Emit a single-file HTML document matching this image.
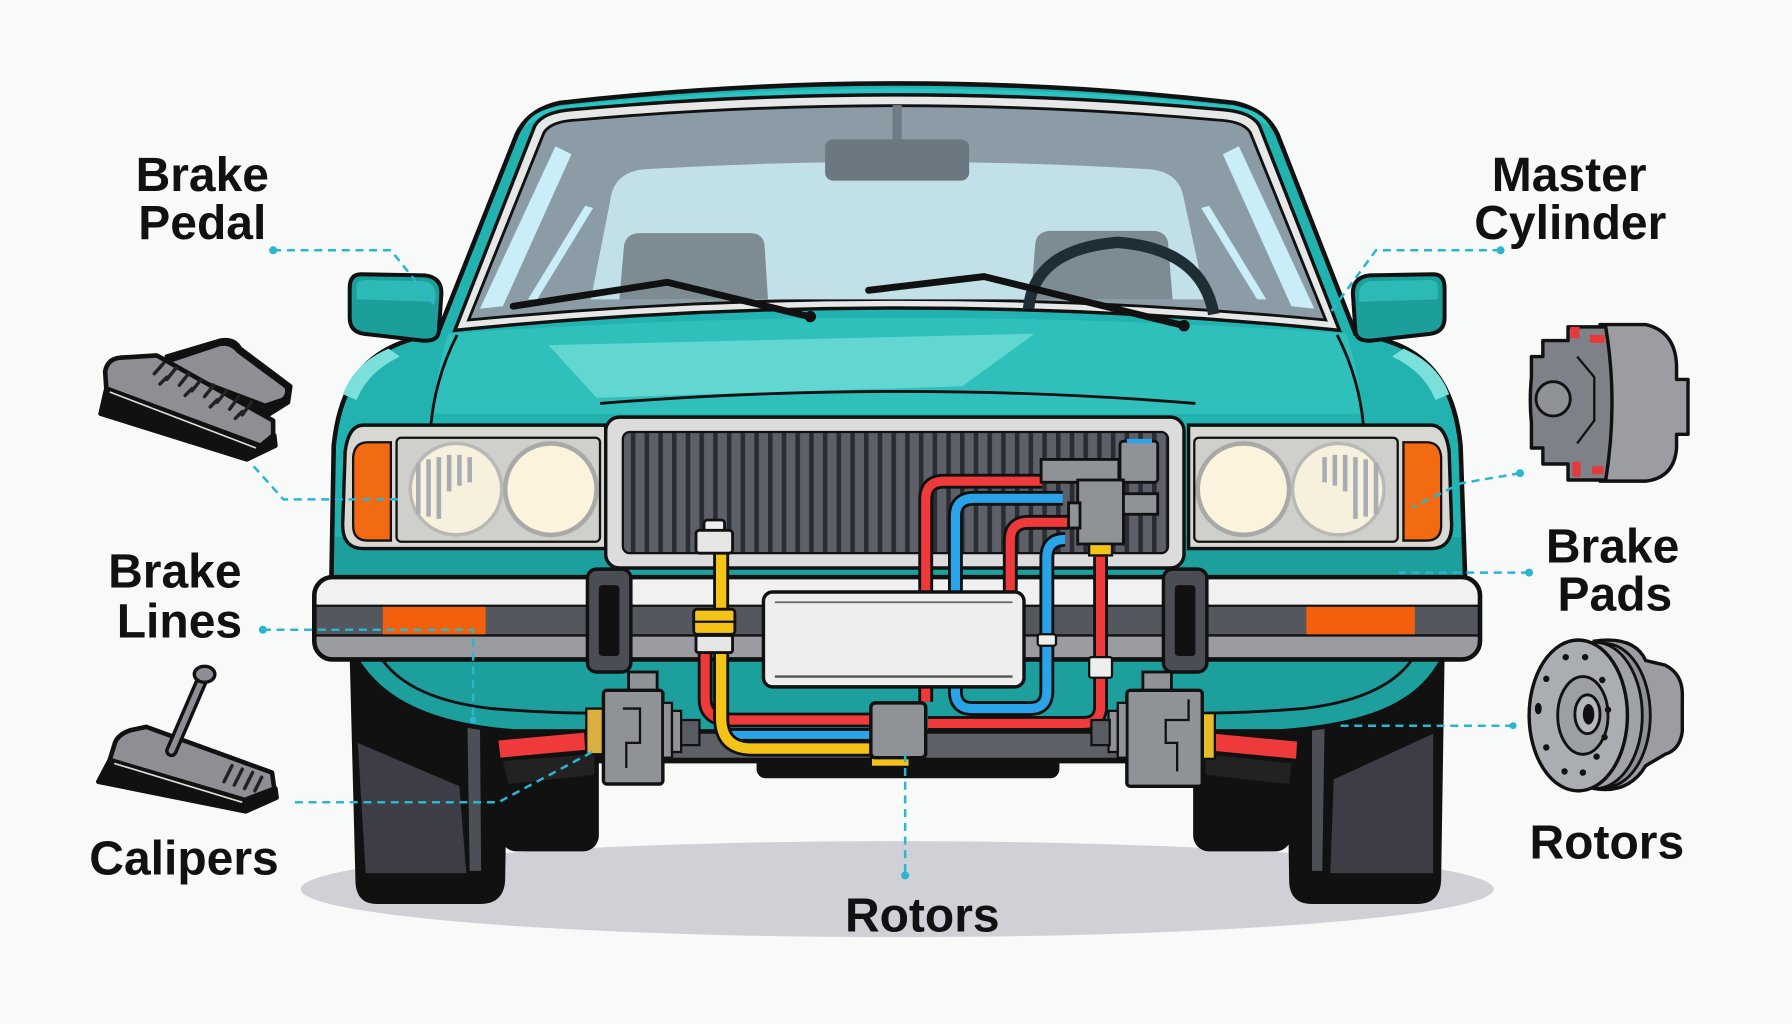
<!DOCTYPE html>
<html><head><meta charset="utf-8"><style>
html,body{margin:0;padding:0;background:#f8fafa;}
svg{display:block;}
text{font-family:"Liberation Sans",Arial,sans-serif;font-weight:bold;fill:#111;}
</style></head><body>
<svg xmlns="http://www.w3.org/2000/svg" xmlns:xlink="http://www.w3.org/1999/xlink" width="1792" height="1024" viewBox="0 0 1568 896">
<defs>
<pattern id="gr" width="12" height="20" patternUnits="userSpaceOnUse">
<rect width="12" height="20" fill="#5d6069"/><rect x="0" width="4" height="20" fill="#2a2c33"/>
</pattern>
<clipPath id="bodyclip">
<path d="M383,292 L452,118 Q462,96 490,90 Q790,56 1080,90 Q1108,96 1118,118 L1186,292 C1245,300 1272,330 1278,390 L1282,505 L1262,577 C1240,620 1190,635 1120,640 L450,640 C380,635 335,615 312,577 L290,505 L292,390 C298,330 325,300 383,292 Z"/>
</clipPath>
</defs>
<rect width="1568" height="896" fill="#f8fafa"/>
<!-- shadow -->
<ellipse cx="785" cy="778" rx="522" ry="42" fill="#d0d1d6"/>
<!-- rear tires -->
<rect x="438" y="630" width="86" height="115" rx="14" fill="#111"/>
<rect x="1044" y="630" width="86" height="115" rx="14" fill="#111"/>
<!-- front tires -->
<path d="M306,575 H445 L442,770 Q441,791 420,791 H330 Q311,791 311,770 Z" fill="#111"/>
<path d="M313,650 L402,688 L408,764 L320,764 Z" fill="#3c3d45"/>
<path d="M409,634 L420,636 L421,762 L411,762 Z" fill="#4d4f57"/>
<path d="M1125,575 H1264 L1261,770 Q1260,791 1240,791 H1148 Q1128,791 1128,770 Z" fill="#111"/>
<path d="M1167,682 L1254,642 L1254,764 L1164,764 Z" fill="#3c3d45"/>
<path d="M1148,636 L1159,634 L1157,762 L1148,762 Z" fill="#4d4f57"/>
<!-- undercarriage -->
<path d="M440,625 H1130 V668 H440 Z" fill="#111"/>
<rect x="662" y="640" width="265" height="41" rx="8" fill="#111"/>
<rect x="585" y="641" width="400" height="22" fill="#5e6068"/>
<!-- body -->
<path d="M383,292 L452,118 Q462,96 490,90 Q790,56 1080,90 Q1108,96 1118,118 L1186,292 C1245,300 1272,330 1278,390 L1282,505 L1262,577 C1240,620 1190,635 1120,640 L450,640 C380,635 335,615 312,577 L290,505 L292,390 C298,330 325,300 383,292 Z" fill="#22b3b1"/>
<g clip-path="url(#bodyclip)">
<rect x="280" y="470" width="1010" height="180" fill="#1c9f9d"/>
</g>
<path d="M383,292 L452,118 Q462,96 490,90 Q790,56 1080,90 Q1108,96 1118,118 L1186,292 C1245,300 1272,330 1278,390 L1282,505 L1262,577 C1240,620 1190,635 1120,640 L450,640 C380,635 335,615 312,577 L290,505 L292,390 C298,330 325,300 383,292 Z" fill="none" stroke="#111" stroke-width="4"/>
<!-- roof band lighter -->
<path d="M458,112 Q466,96 490,93 Q790,62 1080,93 Q1104,96 1112,112 L1100,104 Q785,74 470,104 Z" fill="#2cc3c2"/>
<!-- hood -->
<path d="M392,292 Q785,264 1178,292 C1186,315 1190,340 1192,362 L378,362 C380,340 385,315 392,292 Z" fill="#2fc0bc"/>
<path d="M480,302 L905,292 L842,338 L522,348 Z" fill="#62d7d1"/>
<path d="M300,345 Q310,318 340,305 L350,312 Q322,325 312,350 Z" fill="#7be0da"/>
<path d="M1268,345 Q1258,318 1228,305 L1218,312 Q1246,325 1256,350 Z" fill="#7be0da"/>
<path d="M525,353 Q790,332 1046,353" fill="none" stroke="#111" stroke-width="2.5"/>
<path d="M400,293 Q381,330 377,372" fill="none" stroke="#111" stroke-width="2.5"/>
<path d="M1170,293 Q1189,330 1193,372" fill="none" stroke="#111" stroke-width="2.5"/>
<!-- windshield -->
<path d="M398,289 L468,110 Q475,98 500,96 Q785,70 1070,96 Q1095,98 1102,110 L1172,289 Q785,250 398,289 Z" fill="#e6e8e8" stroke="#111" stroke-width="3"/>
<path d="M410,280 L476,116 Q482,106 505,105 Q785,80 1065,105 Q1088,106 1094,116 L1160,280 Q785,244 410,280 Z" fill="#8b9ca6" stroke="#111" stroke-width="2.5"/>
<path d="M517,262 L535,170 Q540,150 565,148 Q787,135 1005,148 Q1030,150 1035,170 L1055,262 Z" fill="#c1e0e7"/>
<path d="M486,128 L500,135 L440,268 L420,270 Z" fill="#c9eef8"/>
<path d="M512,180 L519,182 L470,262 L462,262 Z" fill="#c9eef8"/>
<path d="M1084,128 L1070,135 L1130,268 L1150,270 Z" fill="#c9eef8"/>
<path d="M1058,180 L1051,182 L1100,262 L1108,262 Z" fill="#c9eef8"/>
<rect x="781" y="92" width="8" height="32" fill="#6f7c84"/>
<rect x="722" y="122" width="126" height="36" rx="7" fill="#6b7880"/>
<path d="M542,262 L546,215 Q548,204 560,204 H656 Q668,204 669,215 L672,262 Z" fill="#7d8b92"/>
<path d="M902,262 L906,212 Q908,202 920,202 H1008 Q1020,202 1022,212 L1026,262 Z" fill="#7d8b92"/>
<path d="M900,270 Q905,218 978,212 Q1052,218 1062,275" fill="none" stroke="#1f2d35" stroke-width="10"/>
<path d="M449,268 L584,247 L708,277" fill="none" stroke="#111" stroke-width="6" stroke-linecap="round" stroke-linejoin="round"/>
<path d="M760,254 L861,242 L1036,285" fill="none" stroke="#111" stroke-width="6" stroke-linecap="round" stroke-linejoin="round"/>
<circle cx="709" cy="277" r="5" fill="#111"/><circle cx="1036" cy="285" r="5" fill="#111"/>
<!-- side mirrors -->
<path d="M316,240 L372,241 Q388,243 386,260 L384,290 Q383,299 370,298 L318,292 Q306,290 306,278 L306,252 Q306,240 316,240 Z" fill="#1c9e9b" stroke="#111" stroke-width="3.5"/>
<path d="M312,250 Q312,245 320,245 L370,246 Q380,247 381,256 L381,264 L312,262 Z" fill="#2bbab6"/>
<path d="M1254,240 L1198,241 Q1182,243 1184,260 L1186,290 Q1187,299 1200,298 L1252,292 Q1264,290 1264,278 L1264,252 Q1264,240 1254,240 Z" fill="#1c9e9b" stroke="#111" stroke-width="3.5"/>
<path d="M1258,250 Q1258,245 1250,245 L1200,246 Q1190,247 1189,256 L1189,264 L1258,262 Z" fill="#2bbab6"/>
<!-- headlights -->
<g id="hl">
<path d="M318,372 H530 V480 H318 Q298,480 300,455 L302,395 Q305,372 318,372 Z" fill="#d8d8d3" stroke="#111" stroke-width="3"/>
<path d="M322,387 H342 V473 H322 Q309,473 309,460 L309,400 Q310,387 322,387 Z" fill="#f26a12" stroke="#111" stroke-width="2"/>
<rect x="347" y="383" width="178" height="91" rx="4" fill="#cfd0cb" stroke="#111" stroke-width="2"/>
<circle cx="482" cy="428" r="40" fill="#fbf3dc" stroke="#a9aaa8" stroke-width="4"/>
<circle cx="399" cy="428" r="40" fill="#f7f0dd" stroke="#b8b8b4" stroke-width="3"/>
<g stroke="#a7adb2" stroke-width="4">
<line x1="366" y1="405" x2="366" y2="450"/><line x1="375" y1="402" x2="375" y2="452"/><line x1="384" y1="400" x2="384" y2="454"/>
<line x1="393" y1="398" x2="393" y2="430"/><line x1="402" y1="398" x2="402" y2="425"/><line x1="411" y1="400" x2="411" y2="422"/>
</g>
</g>
<use xlink:href="#hl" href="#hl" transform="translate(1570,0) scale(-1,1)"/>
<!-- grille -->
<rect x="530" y="365" width="506" height="132" rx="12" fill="#dcdcdc" stroke="#111" stroke-width="3"/>
<rect x="545" y="378" width="477" height="106" rx="6" fill="url(#gr)" stroke="#111" stroke-width="2"/>
<!-- lower panel lines -->
<path d="M335,578 Q360,612 430,620 Q480,624 520,624" fill="none" stroke="#111" stroke-width="2.5"/>
<path d="M1235,578 Q1210,612 1140,620 Q1090,624 1050,624" fill="none" stroke="#111" stroke-width="2.5"/>
<!-- bumper -->
<rect x="275" y="505" width="1020" height="72" rx="16" fill="#9a9ca1"/>
<path d="M291,505 H1279 Q1295,505 1295,521 V530 H275 V521 Q275,505 291,505 Z" fill="#f1f1f1"/>
<rect x="275" y="530" width="1020" height="26" fill="#55575e"/>
<line x1="275" y1="530" x2="1295" y2="530" stroke="#111" stroke-width="2"/>
<line x1="275" y1="556" x2="1295" y2="556" stroke="#111" stroke-width="2"/>
<rect x="335" y="531" width="90" height="24" fill="#f2600e"/>
<rect x="1143" y="531" width="95" height="24" fill="#f2600e"/>
<rect x="275" y="505" width="1020" height="72" rx="16" fill="none" stroke="#111" stroke-width="4"/>
<!-- bumper guards -->
<rect x="514" y="498" width="38" height="90" rx="8" fill="#4b4d55" stroke="#111" stroke-width="3"/>
<rect x="524" y="512" width="18" height="62" rx="3" fill="#111"/>
<rect x="1018" y="498" width="38" height="90" rx="8" fill="#4b4d55" stroke="#111" stroke-width="3"/>
<rect x="1028" y="512" width="18" height="62" rx="3" fill="#111"/>
<!-- brake lines behind plate -->
<g fill="none" stroke-linejoin="round">
<path d="M912,421 H826 Q810,421 810,437 V614" stroke="#111" stroke-width="13"/>
<path d="M912,421 H826 Q810,421 810,437 V614" stroke="#ee3a3a" stroke-width="8"/>
<path d="M935,457 H900 Q884,457 884,473 V530" stroke="#111" stroke-width="13"/>
<path d="M935,457 H900 Q884,457 884,473 V530" stroke="#ee3a3a" stroke-width="8"/>
<path d="M930,436 H852 Q836,436 836,452 V605 Q836,620 851,620 H901 Q916,620 916,605 V488 Q916,472 932,472" stroke="#111" stroke-width="13"/>
<path d="M930,436 H852 Q836,436 836,452 V605 Q836,620 851,620 H901 Q916,620 916,605 V488 Q916,472 932,472" stroke="#2aa3e8" stroke-width="8"/>
<path d="M963,487 V618 Q963,633 948,633 H812" stroke="#111" stroke-width="13"/>
<path d="M963,487 V618 Q963,633 948,633 H812" stroke="#ee3a3a" stroke-width="8"/>
</g>
<rect x="908" y="555" width="16" height="10" rx="2" fill="#eee" stroke="#111" stroke-width="2"/>
<rect x="953" y="575" width="20" height="18" rx="2" fill="#eee" stroke="#111" stroke-width="2"/>
<!-- license plate -->
<rect x="668" y="518" width="228" height="83" rx="8" fill="#eeeeee" stroke="#111" stroke-width="3"/>
<line x1="678" y1="527" x2="886" y2="527" stroke="#666" stroke-width="1.5"/>
<line x1="678" y1="592" x2="886" y2="592" stroke="#555" stroke-width="2"/>
<!-- left bundle -->
<g fill="none" stroke-linejoin="round">
<path d="M617,572 V612 Q617,630 640,630 H766" stroke="#111" stroke-width="13"/>
<path d="M617,572 V612 Q617,630 640,630 H766" stroke="#ee3a3a" stroke-width="8"/>
<path d="M636,643 H766" stroke="#111" stroke-width="12"/>
<path d="M636,643 H766" stroke="#2aa3e8" stroke-width="7"/>
<path d="M631,484 V628 Q631,655 658,655 H766" stroke="#111" stroke-width="14"/>
<path d="M631,484 V628 Q631,655 658,655 H766" stroke="#f3c417" stroke-width="9"/>
</g>
<rect x="616" y="455" width="18" height="10" rx="3" fill="#eee" stroke="#111" stroke-width="2.5"/>
<rect x="609" y="464" width="32" height="20" rx="3" fill="#e6e6e6" stroke="#111" stroke-width="2.5"/>
<rect x="607" y="533" width="36" height="22" rx="3" fill="#f3c417" stroke="#111" stroke-width="2.5"/>
<line x1="607" y1="544" x2="643" y2="544" stroke="#111" stroke-width="2"/>
<rect x="609" y="556" width="32" height="15" rx="2" fill="#e6e6e6" stroke="#111" stroke-width="2.5"/>
<!-- center block -->
<rect x="762" y="663" width="34" height="8" fill="#f3c417" stroke="#111" stroke-width="2"/>
<rect x="762" y="615" width="48" height="48" rx="4" fill="#8f9297" stroke="#111" stroke-width="3"/>
<!-- master cylinder -->
<g fill="#8f9297" stroke="#111" stroke-width="2.5">
<rect x="911" y="402" width="68" height="20"/>
<rect x="980" y="386" width="33" height="36" rx="3"/>
<rect x="943" y="420" width="40" height="56"/>
<rect x="983" y="432" width="30" height="18"/>
<rect x="935" y="440" width="10" height="22"/>
</g>
<rect x="986" y="384" width="22" height="4" fill="#2aa3e8"/>
<rect x="953" y="476" width="20" height="10" fill="#f3c417" stroke="#111" stroke-width="2"/>
<!-- calipers left -->
<path d="M435,647 L512,640 L513,657 L437,664 Z" fill="#ee3a3a" stroke="#111" stroke-width="2"/>
<path d="M440,666 L520,660 L520,678 L445,686 Z" fill="#222"/>
<rect x="513" y="620" width="17" height="40" fill="#d9b040" stroke="#111" stroke-width="2"/>
<rect x="550" y="588" width="25" height="20" fill="#8f9297" stroke="#111" stroke-width="2.5"/>
<rect x="528" y="604" width="52" height="82" rx="3" fill="#8f9297" stroke="#111" stroke-width="3"/>
<path d="M545,620 H560 V650 H548 V672" fill="none" stroke="#111" stroke-width="2"/>
<rect x="580" y="615" width="8" height="48" fill="#8f9297" stroke="#111" stroke-width="2"/>
<rect x="588" y="622" width="8" height="36" fill="#8f9297" stroke="#111" stroke-width="2"/>
<rect x="596" y="630" width="16" height="22" fill="#5a5c63" stroke="#111" stroke-width="2"/>
<!-- calipers right -->
<path d="M1062,641 L1136,648 L1135,665 L1062,658 Z" fill="#ee3a3a" stroke="#111" stroke-width="2"/>
<path d="M1055,660 L1130,668 L1128,686 L1055,678 Z" fill="#222"/>
<rect x="1050" y="624" width="13" height="40" fill="#e3be2a" stroke="#111" stroke-width="2"/>
<rect x="1000" y="588" width="25" height="20" fill="#8f9297" stroke="#111" stroke-width="2.5"/>
<rect x="986" y="604" width="66" height="84" rx="3" fill="#8f9297" stroke="#111" stroke-width="3"/>
<path d="M1040,612 V630 H1020 V650 H1030 V675" fill="none" stroke="#111" stroke-width="2"/>
<rect x="978" y="615" width="8" height="48" fill="#8f9297" stroke="#111" stroke-width="2"/>
<rect x="970" y="622" width="8" height="36" fill="#8f9297" stroke="#111" stroke-width="2"/>
<rect x="955" y="630" width="16" height="22" fill="#5a5c63" stroke="#111" stroke-width="2"/>
<!-- connectors -->
<g fill="none" stroke="#2bb5cf" stroke-width="2.2" stroke-dasharray="7 5">
<path d="M239,219 H342 L383,270"/>
<path d="M222,408 L248,437 H352"/>
<path d="M230,551 H414 V630"/>
<path d="M258,702 H436 L522,656"/>
<path d="M1313,219 H1204 L1165,272"/>
<path d="M1330,414 L1278,423 L1236,444"/>
<path d="M1338,501 H1224"/>
<path d="M1324,635 H1172"/>
<path d="M792,660 V765"/>
</g>
<g fill="#2bb5cf">
<circle cx="239" cy="219" r="3.5"/><circle cx="230" cy="551" r="3.5"/><circle cx="414" cy="630" r="3"/>
<circle cx="1313" cy="219" r="3.5"/><circle cx="1330" cy="414" r="3.5"/><circle cx="1338" cy="501" r="3.5"/>
<circle cx="1324" cy="635" r="3"/><circle cx="792" cy="766" r="3.5"/>
</g>
<!-- top-left pedals -->
<g stroke="#111" stroke-linejoin="round">
<path d="M146,312 L193,298 Q205,296 210,305 L254,338 L252,352 L233,364 L150,330 Z" fill="#111" stroke-width="4"/>
<path d="M150,316 L192,302 Q202,300 208,308 L250,339 Q252,348 244,350 L232,354 L155,325 Z" fill="#8d8f94" stroke-width="2"/>
<path d="M92,325 Q94,314 105,313 L137,311 L239,368 L239,381 L228,390 L93,340 Z" fill="#8d8f94" stroke-width="4"/>
<path d="M93,340 L228,390 L240,381 L241,390 L216,402 L88,362 Z" fill="#111" stroke-width="4"/>
<line x1="96" y1="343" x2="224" y2="392" stroke="#ddd" stroke-width="1.5"/>
</g>
<g stroke="#222" stroke-width="3" stroke-linecap="round">
<line x1="135" y1="327" x2="143" y2="318"/><line x1="146" y1="332" x2="154" y2="322"/><line x1="157" y1="337" x2="165" y2="327"/>
<line x1="168" y1="342" x2="176" y2="332"/><line x1="179" y1="347" x2="187" y2="337"/><line x1="190" y1="352" x2="198" y2="342"/>
<line x1="201" y1="358" x2="209" y2="347"/><line x1="212" y1="363" x2="220" y2="352"/>
<line x1="140" y1="336" x2="146" y2="330"/><line x1="162" y1="346" x2="168" y2="340"/><line x1="184" y1="356" x2="190" y2="350"/><line x1="206" y1="366" x2="212" y2="360"/>
</g>
<!-- bottom-left pedal -->
<g stroke="#111" stroke-linejoin="round">
<path d="M100,652 Q102,643 114,639 L128,636 L238,676 L240,690 L214,700 L96,665 Z" fill="#8d8f94" stroke-width="4"/>
<path d="M96,665 L214,700 L241,690 L242,698 L215,710 L86,684 Z" fill="#111" stroke-width="4"/>
<line x1="100" y1="668" x2="212" y2="702" stroke="#ddd" stroke-width="1.5"/>
<line x1="150" y1="657" x2="178" y2="592" stroke-width="11" stroke-linecap="round"/>
<line x1="150" y1="657" x2="178" y2="592" stroke="#8d8f94" stroke-width="5" stroke-linecap="round"/>
<ellipse cx="179" cy="590" rx="9" ry="7" fill="#8d8f94" stroke-width="3"/>
</g>
<g stroke="#222" stroke-width="3" stroke-linecap="round">
<line x1="196" y1="684" x2="203" y2="670"/><line x1="205" y1="687" x2="212" y2="673"/><line x1="214" y1="690" x2="221" y2="676"/><line x1="223" y1="692" x2="229" y2="680"/>
</g>
<!-- brake pad / caliper icon -->
<g stroke="#111" stroke-linejoin="round">
<path d="M1400,284 H1440 Q1466,290 1467,320 V332 H1477 V380 H1467 V392 Q1465,418 1440,421 H1400 Q1412,352 1400,284 Z" fill="#9b9da2" stroke-width="3"/>
<path d="M1372,286 H1405 Q1416,352 1405,420 H1372 V406 H1350 V392 H1340 V370 Q1338,350 1340,330 V312 H1350 V298 H1372 Z" fill="#7e8187" stroke-width="3"/>
<circle cx="1359" cy="349" r="15" fill="#8f9297" stroke-width="2.5"/>
<path d="M1380,312 L1395,330 V368 L1380,388" fill="none" stroke-width="2"/>
</g>
<rect x="1374" y="286" width="8" height="10" fill="#e8393a"/><rect x="1391" y="293" width="13" height="7" fill="#e8393a"/>
<rect x="1376" y="404" width="7" height="13" fill="#e8393a"/><rect x="1393" y="408" width="10" height="7" fill="#e8393a"/>
<!-- rotor icon -->
<g stroke="#111">
<path d="M1395,561 Q1430,556 1440,578 L1457,582 Q1473,590 1472,610 V640 Q1470,656 1457,660 L1440,670 Q1425,695 1395,690 Z" fill="#9b9da2" stroke-width="3"/>
<ellipse cx="1404" cy="626" rx="40" ry="63" fill="#8d8f94" stroke-width="2.5"/>
<ellipse cx="1396" cy="626" rx="41" ry="64" fill="#9fa2a7" stroke-width="2.5"/>
<ellipse cx="1381" cy="626" rx="43" ry="66" fill="#aaadb2" stroke-width="3"/>
<ellipse cx="1385" cy="626" rx="22" ry="34" fill="#9c9fa4" stroke-width="2.5"/>
<ellipse cx="1389" cy="625" rx="11" ry="17" fill="#b4b7bc" stroke-width="2.5"/>
<ellipse cx="1390" cy="625" rx="5" ry="9" fill="#111" stroke="none"/>
</g>
<g fill="#111">
<circle cx="1370" cy="575" r="2.8"/><circle cx="1387" cy="575" r="2.8"/><circle cx="1353" cy="594" r="2.8"/><circle cx="1402" cy="595" r="2.8"/>
<ellipse cx="1346" cy="620" rx="3" ry="5" /><circle cx="1407" cy="621" r="2.8"/><circle cx="1404" cy="645" r="2.8"/><circle cx="1353" cy="654" r="2.8"/>
<circle cx="1397" cy="662" r="2.8"/><circle cx="1369" cy="675" r="2.8"/><circle cx="1385" cy="676" r="2.8"/>
</g>
<!-- labels -->
<g font-size="42" text-anchor="middle">
<text x="177" y="167">Brake</text>
<text x="177" y="209">Pedal</text>
<text x="1373" y="167">Master</text>
<text x="1374" y="209">Cylinder</text>
<text x="153" y="514">Brake</text>
<text x="157" y="558">Lines</text>
<text x="161" y="765">Calipers</text>
<text x="1411" y="492">Brake</text>
<text x="1413" y="534">Pads</text>
<text x="1406" y="751">Rotors</text>
<text x="807" y="815">Rotors</text>
</g>
</svg>
</body></html>
